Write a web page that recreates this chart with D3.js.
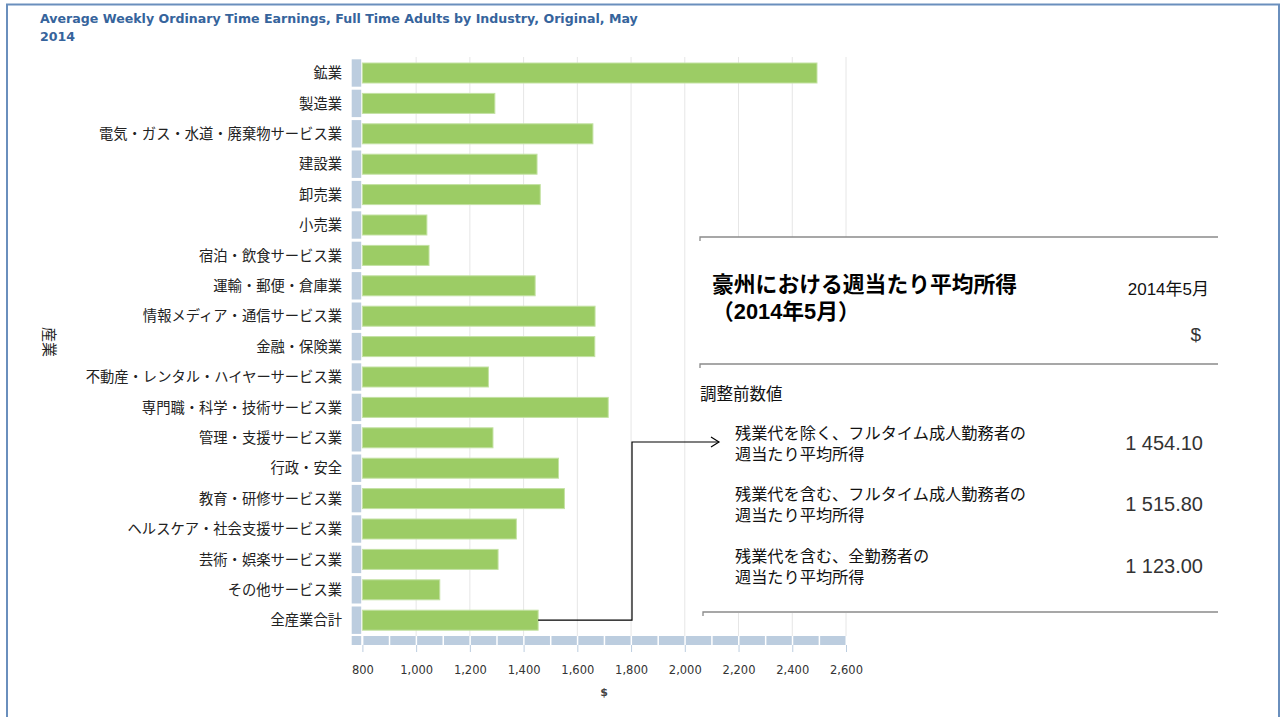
<!DOCTYPE html>
<html>
<head>
<meta charset="utf-8">
<script src="https://cdn.jsdelivr.net/npm/d3@7"></script>
<style>
  body { margin: 0; background: #fff; }
  svg { display: block; }
</style>
</head>
<body>
<div id="viz"></div>
<script>
const width = 1282;
const height = 717;

// data
const categories = ['鉱業', '製造業', '電気・ガス・水道・廃棄物サービス業', '建設業', '卸売業',
    '小売業', '宿泊・飲食サービス業', '運輸・郵便・倉庫業', '情報メディア・通信サービス業',
    '金融・保険業', '不動産・レンタル・ハイヤーサービス業', '専門職・科学・技術サービス業',
    '管理・支援サービス業', '行政・安全', '教育・研修サービス業', 'ヘルスケア・社会支援サービス業',
    '芸術・娯楽サービス業', 'その他サービス業', '全産業合計'];
const earnings = [2492, 1293, 1658, 1450, 1462, 1040, 1048, 1443, 1666, 1665,
    1269, 1715, 1286, 1530, 1552, 1373, 1305, 1088, 1454.1];
const xTicks = [800, 1000, 1200, 1400, 1600, 1800, 2000, 2200, 2400, 2600];
const titleLines = ['Average Weekly Ordinary Time Earnings, Full Time Adults by Industry, Original, May', '2014'];

const boxTitle = ['豪州における週当たり平均所得', '（2014年5月）'];
const boxPeriod = '2014年5月';
const boxGroup = '調整前数値';
const summaryLabels = [
    ['残業代を除く、フルタイム成人勤務者の', '週当たり平均所得'],
    ['残業代を含む、フルタイム成人勤務者の', '週当たり平均所得'],
    ['残業代を含む、全勤務者の', '週当たり平均所得']
];
const summaryValues = ['1 454.10', '1 515.80', '1 123.00'];

const jpFont = '"Liberation Sans", "Noto Sans CJK JP", sans-serif';
const barColor = '#9ccc65';
const bandColor = '#bccddf';

const svg = d3.select('#viz')
    .append('svg')
        .attr('width', width)
        .attr('height', height);

// outer frame
svg.append('path')
    .attr('d', `M7,${height + 5} V4.5 H1279 V${height + 5}`)
    .attr('fill', 'none')
    .attr('stroke', '#6a8fbd')
    .attr('stroke-width', 2);

// chart title
svg.append('text')
    .attr('x', 40)
    .attr('y', 23)
    .attr('font-family', '"DejaVu Sans", sans-serif')
    .attr('font-weight', 'bold')
    .attr('font-size', '12.6px')
    .attr('fill', '#36649c')
    .selectAll('tspan')
    .data(titleLines)
    .join('tspan')
        .attr('x', 40)
        .attr('dy', (d, i) => i === 0 ? 0 : 17.5)
        .text(d => d);

const x = d3.scaleLinear()
    .domain([800, 2600])
    .range([362.4, 846]);

const y = d3.scaleBand()
    .domain(categories)
    .range([57.8, 635.4]);

const step = y.step();
const barH = 20;

// grid lines
svg.append('g')
    .selectAll('line')
    .data(xTicks.slice(1))
    .join('line')
        .attr('x1', d => x(d))
        .attr('x2', d => x(d))
        .attr('y1', 57)
        .attr('y2', 636)
        .attr('stroke', '#e6e6e6')
        .attr('stroke-width', 1);

// row stubs on the left
svg.append('g')
    .selectAll('rect')
    .data(categories)
    .join('rect')
        .attr('x', 351.7)
        .attr('y', d => y(d) + 1.5)
        .attr('width', 9.5)
        .attr('height', step - 3)
        .attr('fill', bandColor);

// bars
svg.append('g')
    .selectAll('rect')
    .data(earnings)
    .join('rect')
        .attr('x', x(800))
        .attr('y', (d, i) => y(categories[i]) + step / 2 - barH / 2)
        .attr('width', d => x(d) - x(800))
        .attr('height', barH)
        .attr('fill', barColor)
        .attr('stroke', '#c4e2a3')
        .attr('stroke-width', 1);

// category labels
svg.append('g')
    .selectAll('text')
    .data(categories)
    .join('text')
        .attr('x', 342)
        .attr('y', d => y(d) + step / 2)
        .attr('dy', '0.36em')
        .attr('text-anchor', 'end')
        .attr('font-family', '"Noto Sans CJK JP", sans-serif')
        .attr('font-size', '14.3px')
        .attr('fill', '#222')
        .text(d => d);

svg.append('text')
    .attr('transform', 'translate(44, 342) rotate(90)')
    .attr('text-anchor', 'middle')
    .attr('font-family', '"Noto Sans CJK JP", sans-serif')
    .attr('font-size', '15px')
    .attr('fill', '#222')
    .text('産業');

// segmented band under the bars
const segStarts = d3.range(800, 2600, 100);
svg.append('rect')
    .attr('x', 351.7)
    .attr('y', 636)
    .attr('width', 9.5)
    .attr('height', 9)
    .attr('fill', bandColor);
svg.append('g')
    .selectAll('rect')
    .data(segStarts)
    .join('rect')
        .attr('x', d => x(d) + 1)
        .attr('y', 636)
        .attr('width', d => x(d + 100) - x(d) - 1.5)
        .attr('height', 9)
        .attr('fill', bandColor);

// x axis
const xAxis = svg.append('g')
    .attr('transform', 'translate(0, 645)')
    .call(d3.axisBottom(x)
        .tickValues(xTicks)
        .tickFormat(d3.format(','))
        .tickSize(7)
        .tickPadding(14));
xAxis.select('.domain').remove();
xAxis.selectAll('.tick line').attr('stroke', bandColor);
xAxis.selectAll('.tick text')
    .attr('font-family', '"DejaVu Sans", sans-serif')
    .attr('font-size', '11.5px')
    .attr('fill', '#333');

svg.append('text')
    .attr('x', 604)
    .attr('y', 696)
    .attr('text-anchor', 'middle')
    .attr('font-family', '"DejaVu Sans", sans-serif')
    .attr('font-weight', 'bold')
    .attr('font-size', '11px')
    .attr('fill', '#444')
    .text('$');

// summary box
const box = svg.append('g');
box.append('rect')
    .attr('x', 700)
    .attr('y', 237)
    .attr('width', 520)
    .attr('height', 376)
    .attr('fill', '#fff');

const rules = [[700, 237], [700, 364], [703, 612]];
box.selectAll('path.rule')
    .data(rules)
    .join('path')
        .attr('class', 'rule')
        .attr('d', d => `M${d[0]},${d[1] + 4} V${d[1]} H1218`)
        .attr('fill', 'none')
        .attr('stroke', '#8a8a8a')
        .attr('stroke-width', 1.3);

box.append('text')
    .attr('font-family', jpFont)
    .attr('font-weight', 'bold')
    .attr('font-size', '21.8px')
    .attr('fill', '#000')
    .selectAll('tspan')
    .data(boxTitle)
    .join('tspan')
        .attr('x', 712)
        .attr('y', (d, i) => 292 + i * 27)
        .text(d => d);

box.append('text')
    .attr('x', 1209)
    .attr('y', 295)
    .attr('text-anchor', 'end')
    .attr('font-family', jpFont)
    .attr('font-size', '17px')
    .attr('fill', '#111')
    .text(boxPeriod);

box.append('text')
    .attr('x', 1201)
    .attr('y', 341)
    .attr('text-anchor', 'end')
    .attr('font-family', jpFont)
    .attr('font-size', '19px')
    .attr('fill', '#333')
    .text('$');

box.append('text')
    .attr('x', 700)
    .attr('y', 400)
    .attr('font-family', jpFont)
    .attr('font-size', '16.5px')
    .attr('fill', '#111')
    .text(boxGroup);

const rowY = [433, 494, 556];
const items = box.selectAll('g.item')
    .data(summaryLabels)
    .join('g')
        .attr('class', 'item');
items.append('text')
    .attr('font-family', jpFont)
    .attr('font-size', '16.2px')
    .attr('fill', '#111')
    .selectAll('tspan')
    .data((d, i) => d.map((t, j) => ({t, y: rowY[i] + j * 21})))
    .join('tspan')
        .attr('x', 735)
        .attr('y', d => d.y)
        .attr('dy', '0.36em')
        .text(d => d.t);
items.append('text')
    .attr('x', 1203)
    .attr('y', (d, i) => rowY[i] + 10)
    .attr('dy', '0.36em')
    .attr('text-anchor', 'end')
    .attr('font-family', jpFont)
    .attr('font-size', '20px')
    .attr('fill', '#333')
    .text((d, i) => summaryValues[i]);

// connector from the total bar to the summary value
const last = categories[categories.length - 1];
const yTotal = y(last) + step / 2;
const arrowY = rowY[0] + 9;
const tipX = 719;
svg.append('path')
    .attr('d', `M${x(earnings[earnings.length - 1])},${yTotal} H632 V${arrowY} H${tipX}`)
    .attr('fill', 'none')
    .attr('stroke', '#000')
    .attr('stroke-width', 1.2);
svg.append('path')
    .attr('d', `M${tipX - 8},${arrowY - 5} L${tipX},${arrowY} L${tipX - 8},${arrowY + 5}`)
    .attr('fill', 'none')
    .attr('stroke', '#000')
    .attr('stroke-width', 1.2);
</script>
</body>
</html>
